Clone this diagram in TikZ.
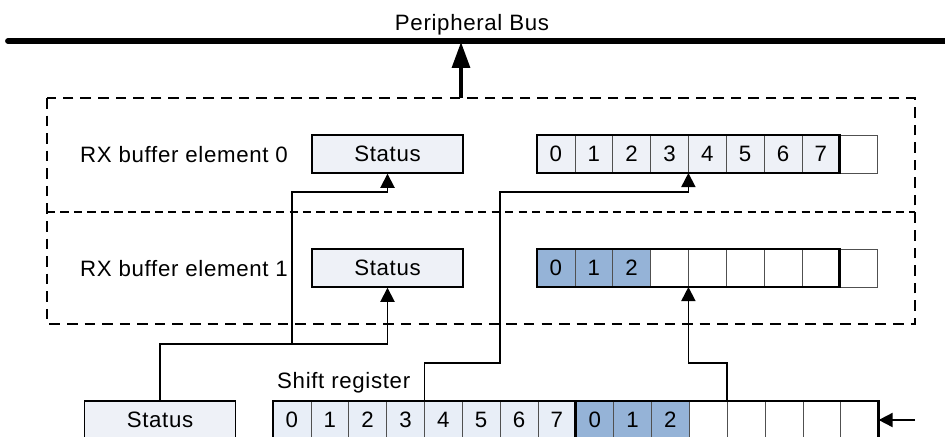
\documentclass[tikz,border=0pt]{standalone}
\usepackage{fontspec}
\setmainfont{Liberation Sans}[LetterSpace=3]
\usetikzlibrary{arrows.meta,positioning}
\definecolor{cellfill}{RGB}{238,241,247}
\definecolor{srfill}{RGB}{232,238,247}
\definecolor{hifill}{RGB}{149,179,215}
\definecolor{gridline}{RGB}{80,80,80}
\tikzset{
  cell/.style={
    shape = rectangle,
    draw = gridline,
    line width = 0.6pt,
    minimum width = 1.1355cm,
    minimum height = 1.14cm,
    inner sep = 0pt,
    outer sep = 0pt
  },
  statusbox/.style={
    shape = rectangle,
    draw,
    fill = cellfill,
    line width = 1.2pt,
    minimum width = 4.53cm,
    minimum height = 1.14cm,
    inner sep = 0pt
  },
  outline/.style={
    line width = 2.4pt,
    line cap = rect
  },
  link/.style={
    line width = 1.5pt,
    -{Triangle[length=12pt,width=12pt]}
  },
  frame/.style={
    line width = 1.4pt,
    dash pattern = on 9pt off 6pt
  },
  divider/.style={
    line width = 1pt,
    dash pattern = on 7pt off 4.5pt
  },
  lbl/.style={
    anchor = base west,
    inner sep = 0pt
  }
}

\begin{document}
\begin{tikzpicture}[x=0.03cm, y=-0.03cm, font=\fontsize{19}{22}\selectfont]
    \def\cw{37.85}
    \useasboundingbox (0,0) rectangle (945,436);
    % bus
    \draw[line width=5pt, line cap=round] (8,41) -- (945,41);
    \node[anchor=base, inner sep=0pt] (buslbl) at (472,30) {Peripheral Bus};
    \coordinate (tap) at (461,42);
    \coordinate (boxtop) at (461,98);
    \draw[line width=3.4pt, -{Triangle[length=22pt,width=15pt]}] (boxtop) -- (tap);
    % rx buffer
    \draw[frame] (47,98) rectangle (915,324);
    \draw[divider] (47,212) -- (915,212);
    \node[lbl] (lbl0) at (80,162) {RX buffer element 0};
    \node[lbl] (lbl1) at (80,276) {RX buffer element 1};
    \node[statusbox] (st0) at (387.5,154) {Status};
    \node[statusbox] (st1) at (387.5,268) {Status};
    \foreach \i in {0,...,8} {
      \ifnum\i<8
        \node[cell, fill=cellfill] (ra\i) at ({537+\cw*(\i+0.5)},154) {\i};
      \else
        \node[cell, fill=white] (ra\i) at ({537+\cw*(\i+0.5)},154) {};
      \fi
      \ifnum\i<3
        \node[cell, fill=hifill] (rb\i) at ({537+\cw*(\i+0.5)},268) {\i};
      \else
        \node[cell, fill=white] (rb\i) at ({537+\cw*(\i+0.5)},268) {};
      \fi
    }
    \draw[outline] (ra0.north west) rectangle (ra7.south east);
    \draw[outline] (rb0.north west) rectangle (rb7.south east);
    % shift register
    \node[statusbox] (st2) at (160,420) {Status};
    \node[lbl] (srlbl) at (277,388) {Shift register};
    \foreach \i in {0,...,15} {
      \pgfmathtruncatemacro\k{\i-8}
      \ifnum\i<8
        \node[cell, fill=srfill] (sr\i) at ({273+\cw*(\i+0.5)},420) {\i};
      \else\ifnum\i<11
        \node[cell, fill=hifill] (sr\i) at ({273+\cw*(\i+0.5)},420) {\k};
      \else
        \node[cell, fill=white] (sr\i) at ({273+\cw*(\i+0.5)},420) {};
      \fi\fi
    }
    \draw[outline] (sr0.south west) |- (sr15.north east) -- (sr15.south east);
    \draw[outline] (sr7.north east) -- (sr7.south east);
    % connectors
    \coordinate (j1) at (292,344);
    \coordinate (j2) at (292,192);
    \coordinate (k1) at (500,363);
    \coordinate (k2) at (500,192);
    \coordinate (srin) at (915,420);
    \draw[link] (st2.north) |- (j1) -| (st1.south);
    \draw[link] (j1) -- (j2) -| (st0.south);
    \draw[link] (sr4.north west) |- (k1) -- (k2) -| (ra4.south west);
    \draw[link] (sr12.north west) -- ++(0,-38) -| (rb4.south west);
    \draw[link] (srin) -- (sr15.east);
\end{tikzpicture}
\end{document}
